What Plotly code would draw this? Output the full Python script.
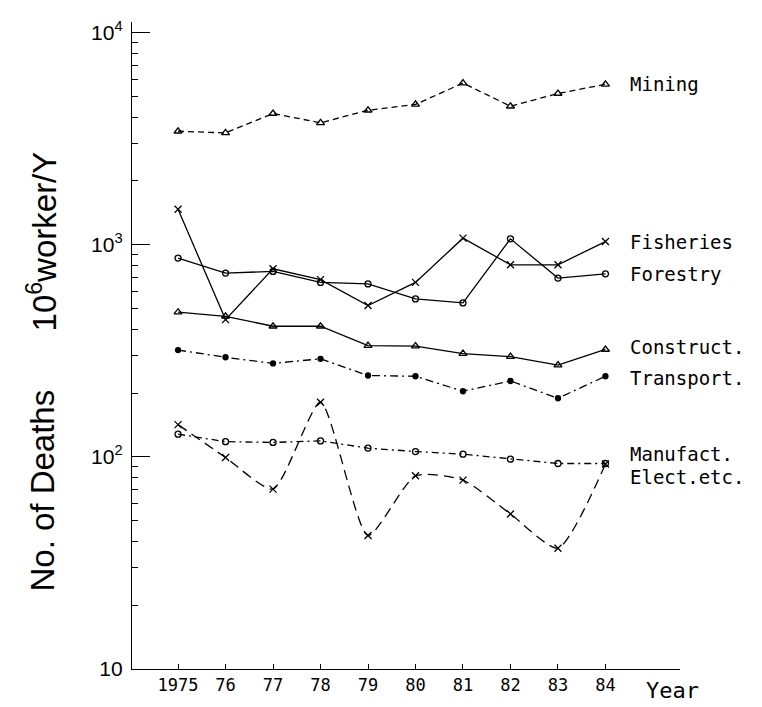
import math
import plotly.graph_objects as go

years = [1975, 1976, 1977, 1978, 1979, 1980, 1981, 1982, 1983, 1984]
year_labels = ["1975", "76", "77", "78", "79", "80", "81", "82", "83", "84"]

mining = [3430, 3370, 4160, 3760, 4310, 4590, 5790, 4500, 5170, 5710]
fisheries = [1470, 444, 771, 685, 517, 665, 1075, 805, 805, 1036]
forestry = [866, 736, 749, 665, 654, 556, 532, 1067, 697, 730]
construct = [481, 460, 413, 413, 335, 333, 307, 297, 271, 321]
transport = [319, 295, 276, 290, 242, 240, 204, 228, 189, 240]
manufact = [128, 118, 117, 119, 110, 106, 103, 97.6, 93.1, 93.1]
elect = [142, 99.4, 70.5, 181, 42.6, 81.5, 77.7, 53.8, 37.1, 92.5]

y_major = [10, 100, 1000, 10000]
y_major_text = ["10", "10<sup>2</sup>", "10<sup>3</sup>", "10<sup>4</sup>"]
y_minor = [m * d for d in (10, 100, 1000) for m in range(2, 10)]

series = [
    # name, values, marker symbol, marker size, dash, shape, label yshift
    ("Mining", mining, "triangle-up-open", 7, "6px,4px", "linear", 0),
    ("Fisheries", fisheries, "x-thin-open", 7, "solid", "linear", 0),
    ("Forestry", forestry, "circle-open", 6, "solid", "linear", 0),
    ("Construct.", construct, "triangle-up-open", 7, "solid", "linear", 2),
    ("Transport.", transport, "circle", 5, "8px,4px,2px,4px", "linear", -2),
    ("Manufact.", manufact, "circle-open", 6, "7px,4px,2px,4px", "linear", 9),
    ("Elect.etc.", elect, "x-thin-open", 7, "10px,6px", "spline", -13),
]

fig = go.Figure()
for name, vals, sym, msize, dash, shape, _ in series:
    fig.add_trace(go.Scatter(
        x=years, y=vals, mode="lines+markers", name=name,
        line=dict(color="black", width=1.3, dash=dash, shape=shape,
                  smoothing=0.6 if shape == "spline" else None),
        marker=dict(symbol=sym, size=msize, color="black",
                    line=dict(color="black", width=1.3)),
        showlegend=False,
    ))

mono = "DejaVu Sans Mono, monospace"
annotations = []
for name, vals, sym, msize, dash, shape, ysh in series:
    annotations.append(dict(
        x=years[-1], y=math.log10(vals[-1]), xref="x", yref="y",
        text=name, showarrow=False, xanchor="left", yanchor="middle",
        xshift=23, yshift=ysh,
        font=dict(family=mono, size=19, color="black"),
    ))

title_font = dict(family="Liberation Sans Narrow, Liberation Sans, Arial", size=33, color="black")
annotations.append(dict(
    x=-0.164, y=0.276, xref="paper", yref="paper", text="No. of Deaths",
    textangle=-90, showarrow=False, xanchor="center", yanchor="middle", font=title_font,
))
annotations.append(dict(
    x=-0.164, y=0.661, xref="paper", yref="paper", text="10<sup>6</sup>worker/Y",
    textangle=-90, showarrow=False, xanchor="center", yanchor="middle", font=title_font,
))
annotations.append(dict(
    x=1.0, y=0, xref="paper", yref="paper", text="Year",
    showarrow=False, xanchor="center", yanchor="bottom", yshift=-36, xshift=-8,
    font=dict(family=mono, size=22, color="black"),
))

fig.update_layout(
    width=762, height=707,
    margin=dict(l=132, r=82, t=22, b=36),
    paper_bgcolor="white", plot_bgcolor="white",
    annotations=annotations,
    xaxis=dict(
        range=[1974.03, 1985.57], tickvals=years, ticktext=year_labels,
        showgrid=False, zeroline=False, showline=True, linecolor="black", linewidth=1.3,
        ticks="inside", ticklen=5, tickcolor="black", tickwidth=1.2,
        tickfont=dict(family=mono, size=17, color="black"),
    ),
    yaxis=dict(
        type="log", range=[1, 4.0505],
        tickvals=y_major, ticktext=y_major_text,
        showgrid=False, zeroline=False, showline=True, linecolor="black", linewidth=1.3,
        ticks="inside", ticklen=18, tickcolor="black", tickwidth=1.3,
        ticklabelstandoff=4,
        tickfont=dict(family="Liberation Sans, Arial", size=21, color="black"),
        minor=dict(tickvals=y_minor, ticks="inside", ticklen=6, tickcolor="black",
                   tickwidth=1, showgrid=False),
    ),
)

fig.write_html("out.html")
